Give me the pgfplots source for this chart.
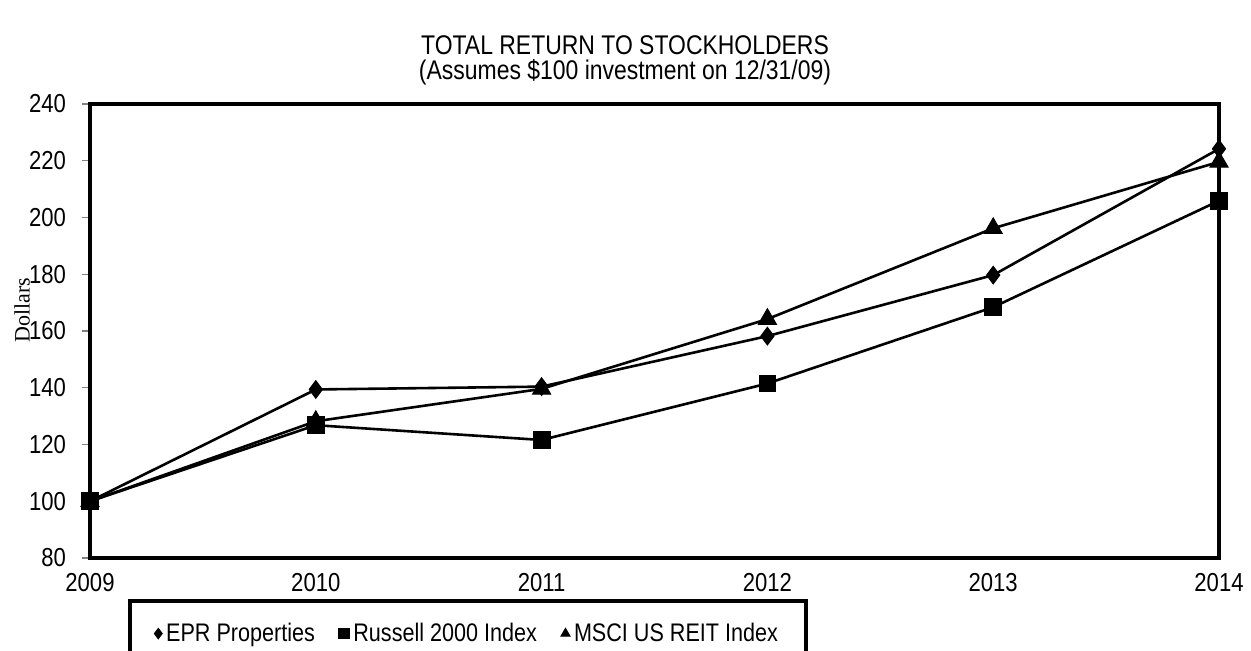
\documentclass[border=0pt]{standalone}
\usepackage{pgfplots}
\pgfplotsset{compat=1.18}
\usepackage{fontspec}
\setmainfont{Liberation Sans}[FakeStretch=0.85]
\newfontfamily\timesfont{Liberation Serif}
\begin{document}
\begin{tikzpicture}
\begin{axis}[
  name=ax,
  scale only axis,
  width=564.5pt, height=227pt,
  xmin=2009, xmax=2014, ymin=80, ymax=240,
  xtick={2009,2010,2011,2012,2013,2014},
  xticklabels={2009,2010,2011,2012,2013,2014},
  ytick={80,100,...,240},
  ytick pos=left,
  /pgf/number format/assume math mode=true,
  tick label style={font=\fontsize{13}{14}\selectfont},
  xtick style={draw=none},
  ytick style={draw=gray, line width=0.6pt},
  tick align=outside,
  major tick length=4pt,
  axis line style={line width=2.3pt},
  xticklabel style={yshift=0pt},
  yticklabel style={xshift=-4.5pt},
  legend columns=3,
  legend style={at={(0.034,-0.09)}, anchor=north west, draw=black, line width=2pt,
    font=\fontsize{12.7}{14}\selectfont, inner xsep=12pt, inner ysep=9pt,
    /tikz/every even column/.append style={column sep=10pt}},
  legend cell align=left,
  legend image code/.code={\draw[#1, mark size=2.6pt, line width=0.4pt] plot[only marks] coordinates {(0.1cm,0cm)};},
  every axis plot/.append style={line width=1.3pt, black},
  clip=false,
]
\addplot[mark=diamond*, mark size=4.4pt, mark options={fill=black, line width=0.5pt}] coordinates {
(2009,100) (2010,139.4) (2011,140.4) (2012,158.2) (2013,179.7) (2014,224.2)};
\addlegendentry{EPR Properties}
\addplot[mark=square*, mark size=4.2pt, mark options={fill=black, line width=0.5pt}] coordinates {
(2009,100) (2010,126.8) (2011,121.6) (2012,141.5) (2013,168.4) (2014,205.9)};
\addlegendentry{Russell 2000 Index}
\addplot[mark=triangle*, mark size=5.2pt, mark options={fill=black, line width=0.5pt}] coordinates {
(2009,100) (2010,128.2) (2011,139.6) (2012,164.2) (2013,196.2) (2014,219.6)};
\addlegendentry{MSCI US REIT Index}
\end{axis}
\node[align=center, font=\fontsize{13.5}{12.5}\selectfont] at ([shift={(267.5pt,249pt)}]ax.south west) {TOTAL RETURN TO STOCKHOLDERS\\(Assumes \$100 investment on 12/31/09)};
\node[rotate=90, font=\timesfont\fontsize{11}{12}\selectfont] at ([shift={(-34pt,124pt)}]ax.south west) {Dollars};
\pgfresetboundingbox
\path[use as bounding box] ([shift={(-45pt,-46pt)}]ax.south west) rectangle ([shift={(580.5pt,279pt)}]ax.south west);
\end{tikzpicture}
\end{document}
